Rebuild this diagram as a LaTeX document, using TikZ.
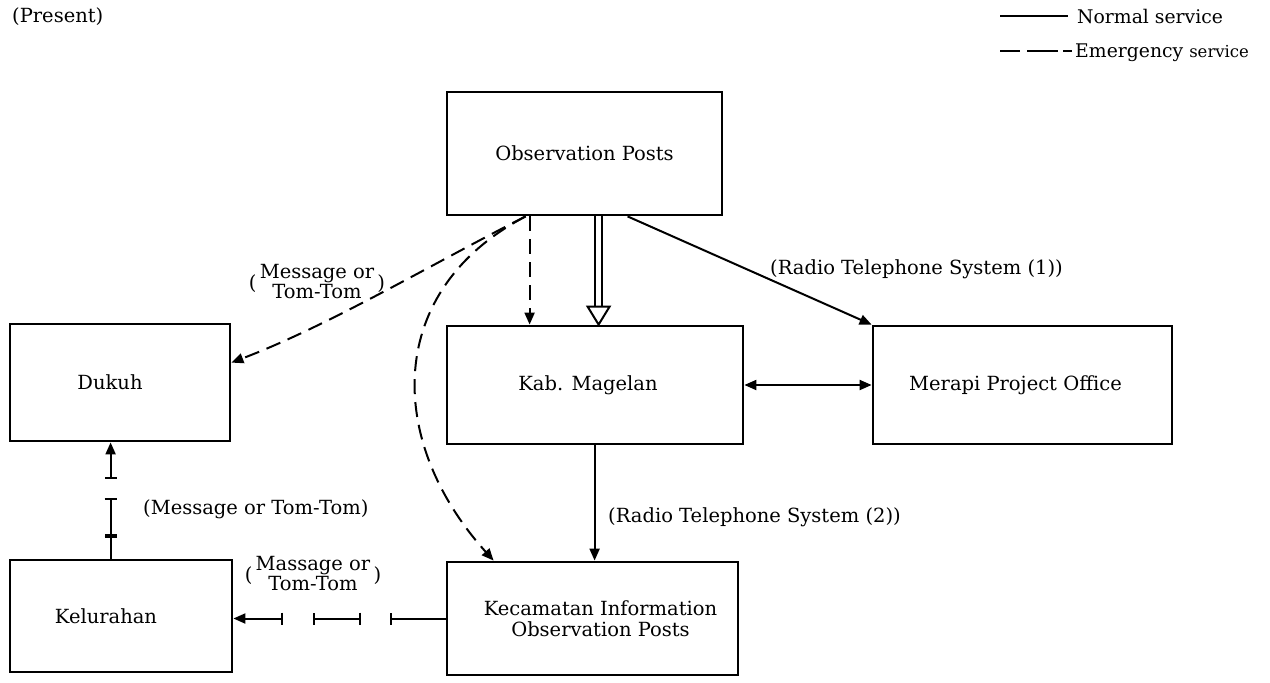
\documentclass[tikz,border=0pt]{standalone}
\usepackage{fontspec}
\setmainfont{DejaVu Serif}
\usetikzlibrary{arrows.meta,calc}
\newcommand{\shiftx}[1]{\hspace*{#1}}
\begin{document}
\begin{tikzpicture}[x=1pt,y=-1pt,
  box/.style={draw, line width=2.8pt, rectangle, inner sep=0pt, align=center, font=\fontsize{19.5}{21}\selectfont},
  lbl/.style={inner sep=0pt, font=\fontsize{19.5}{21}\selectfont, align=center},
  conn/.style={line width=2pt},
  tip/.style={-{Triangle[length=12pt,width=10pt]}},
  emer/.style={conn, dash pattern=on 15pt off 8pt, tip},
  barend/.style={conn, -{Bar[width=12pt,line width=2pt]}},
  bars/.style={conn, {Bar[width=12pt,line width=2pt]}-{Bar[width=12pt,line width=2pt]}},
  bartip/.style={conn, {Bar[width=12pt,line width=2pt]}-{Triangle[length=12pt,width=10pt]}},
]
\useasboundingbox (0,0) rectangle (1270,683);

% boxes
\node[box, minimum width=275, minimum height=123] (obs) at (584.5,153.5) {Observation Posts};
\node[box, minimum width=296, minimum height=118] (kab) at (595,385) {\shiftx{-14pt}Kab. Magelan};
\node[box, minimum width=299, minimum height=118] (mer) at (1022.5,385) {\shiftx{-14pt}Merapi Project Office};
\node[box, minimum width=220, minimum height=117] (dukuh) at (120,382.5) {\shiftx{-20pt}Dukuh};
\node[box, minimum width=222, minimum height=112] (kel) at (121,616) {\shiftx{-30pt}Kelurahan};
\node[box, minimum width=291, minimum height=113] (kec) at (592.5,618.5) {\shiftx{16pt}Kecamatan Information\\\shiftx{16pt}Observation Posts};

% anchor points
\coordinate (oa) at ($(obs.south west)+(80,0)$);
\coordinate (ob) at ($(obs.south west)+(84,0)$);
\coordinate (oc) at ($(obs.south west)+(153,0)$);
\coordinate (od) at ($(obs.south west)+(182,0)$);
\coordinate (ka) at ($(kab.north west)+(84,0)$);
\coordinate (kc) at ($(kab.north west)+(153,0)$);
\coordinate (kd) at ($(kab.south west)+(149,0)$);
\coordinate (ke) at ($(kec.north west)+(48,0)$);
\coordinate (de) at ($(dukuh.north east)+(0,40)$);

% Observation posts -> Kab (emergency)
\draw[emer] (ob) -- (ka);
% Observation posts -> Kab (normal, hollow double)
\draw[conn] ($(oc)+(-3.5,0)$) -- ($(kc)+(-3.5,-18)$);
\draw[conn] ($(oc)+(3.5,0)$) -- ($(kc)+(3.5,-18)$);
\draw[conn, fill=white, line join=miter] ($(kc)+(-11,-18)$) -- ($(kc)+(11,-18)$) -- (kc) -- cycle;
% Observation posts -> Merapi
\draw[conn, tip] (od) -- (mer.north west);
% Observation posts -> Dukuh (emergency)
\draw[emer] (oa) .. controls (430,265) and (330,325) .. (de);
% Observation posts -> Kecamatan (emergency, curved)
\draw[emer] (oa) .. controls (385,290) and (385,440) .. (ke);
% Kab <-> Merapi
\draw[conn, {Triangle[length=12pt,width=10pt]}-{Triangle[length=12pt,width=10pt]}] (kab.east) -- (mer.west);
% Kab -> Kecamatan
\draw[conn, tip] (kd) -- (kd |- kec.north);

% Kelurahan -> Dukuh (emergency, bar segments)
\coordinate (k1) at ($(kel.north west)+(102,0)$);
\coordinate (k2) at ($(k1)+(0,-23)$);
\coordinate (k3) at ($(k1)+(0,-61)$);
\coordinate (k4) at ($(k1)+(0,-80)$);
\coordinate (d1) at (k1 |- dukuh.south);
\draw[barend] (k1) -- (k2);
\draw[bars] (k2) -- (k3);
\draw[bartip] (k4) -- (d1);

% Kecamatan -> Kelurahan (emergency, bar segments)
\coordinate (h1) at ($(kec.west)+(-56,0)$);
\coordinate (h2) at ($(kec.west)+(-85,0)$);
\coordinate (h3) at ($(kec.west)+(-133,0)$);
\coordinate (h4) at ($(kec.west)+(-163,0)$);
\draw[barend] (kec.west) -- (h1);
\draw[bars] (h2) -- (h3);
\draw[bartip] (h4) -- (kel.east |- h4);

% labels
\node[lbl, anchor=base west] (present) at (12,22) {(Present)};
\node[lbl, anchor=base west] (r1) at (770,274) {(Radio Telephone System (1))};
\node[lbl, anchor=base west] (r2) at (608,522) {(Radio Telephone System (2))};
\node[lbl, anchor=base west] (m1) at (143,514) {(Message or Tom-Tom)};
\node[lbl] (m2) at (317,284) {(\,\begin{tabular}{@{}c@{}}Message or\\[-1pt]Tom-Tom\end{tabular}\,)};
\node[lbl] (m3) at (313,576) {(\,\begin{tabular}{@{}c@{}}Massage or\\[-1pt]Tom-Tom\end{tabular}\,)};

% legend
\coordinate (ln1) at (1000,16);
\coordinate (ln2) at (1068,16);
\draw[conn] (ln1) -- (ln2);
\node[lbl, anchor=base west, font=\fontsize{18.8}{20}\selectfont] (leg1) at (1077,23) {Normal service};
\coordinate (le1) at (1000,51);
\coordinate (le2) at (1072,51);
\draw[conn, dash pattern=on 20pt off 7pt on 31pt off 5pt on 9pt off 20pt] (le1) -- (le2);
\node[lbl, anchor=base west, font=\fontsize{18.8}{20}\selectfont] (leg2) at (1075,57) {Emergency {\fontsize{16.5}{18}\selectfont service}};
\end{tikzpicture}
\end{document}
